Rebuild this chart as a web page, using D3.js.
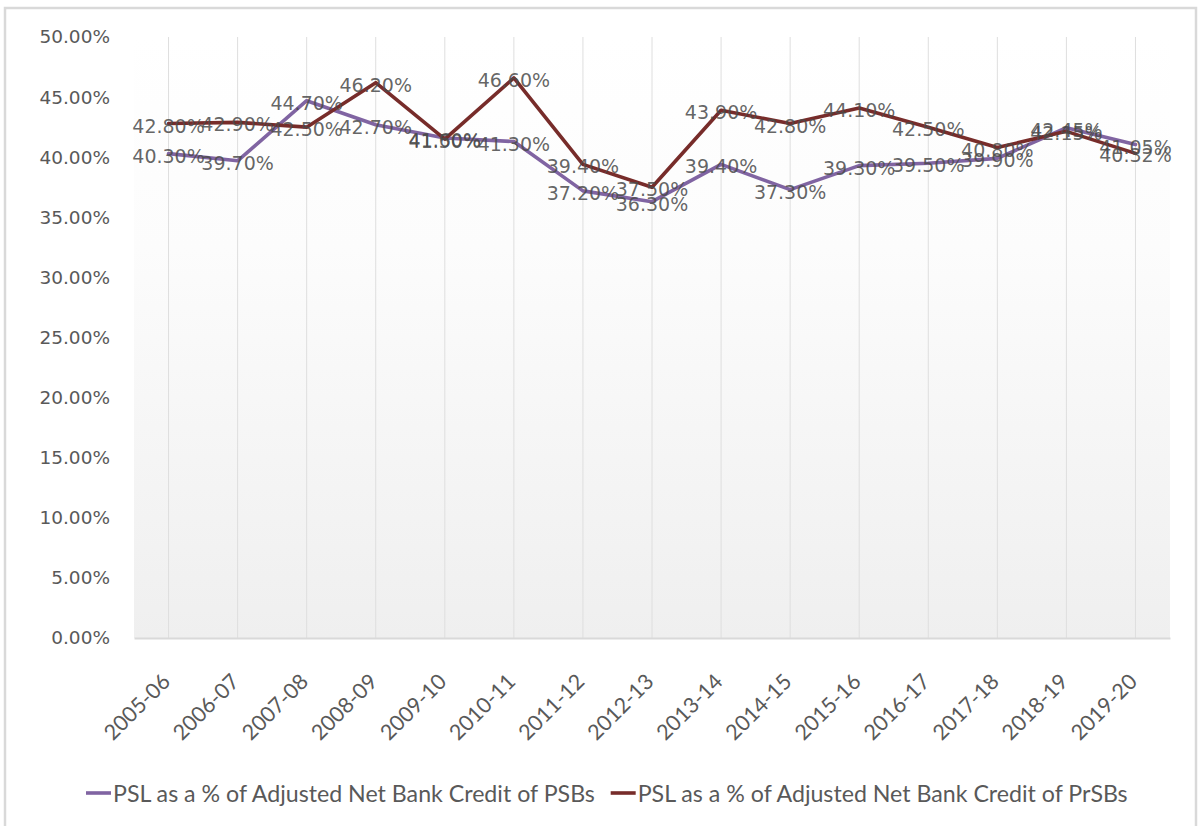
<!DOCTYPE html>
<html>
<head>
<meta charset="utf-8">
<script src="https://cdn.jsdelivr.net/npm/d3@7/dist/d3.min.js"></script>
<style>
  html, body { margin: 0; padding: 0; background: #ffffff; }
  svg { display: block; }
</style>
</head>
<body>
<svg id="chart" width="1198" height="826"></svg>
<script>
const years = ["2005-06","2006-07","2007-08","2008-09","2009-10","2010-11","2011-12","2012-13","2013-14","2014-15","2015-16","2016-17","2017-18","2018-19","2019-20"];
const psbValues = [0.4030, 0.3970, 0.4470, 0.4270, 0.4160, 0.4130, 0.3720, 0.3630, 0.3940, 0.3730, 0.3930, 0.3950, 0.3990, 0.4245, 0.4105];
const prsbValues = [0.4280, 0.4290, 0.4250, 0.4620, 0.4150, 0.4660, 0.3940, 0.3750, 0.4390, 0.4280, 0.4410, 0.4250, 0.4080, 0.4215, 0.4032];
const yTicks = [0, 0.05, 0.10, 0.15, 0.20, 0.25, 0.30, 0.35, 0.40, 0.45, 0.50];
const seriesNames = ["PSL as a % of Adjusted Net Bank Credit of PSBs", "PSL as a % of Adjusted Net Bank Credit of PrSBs"];
const seriesColors = ["#8064a2", "#772c2a"];

const svg = d3.select("#chart");
const plot = { left: 134, right: 1170, top: 37, bottom: 638 };

// outer frame
svg.append("rect").attr("x", 5).attr("y", 8).attr("width", 1191).attr("height", 840)
  .attr("fill", "#ffffff").attr("stroke", "#d9d9d9").attr("stroke-width", 2.5);

const defs = svg.append("defs");
const grad = defs.append("linearGradient").attr("id", "bg").attr("x1", 0).attr("y1", 0).attr("x2", 0).attr("y2", 1);
grad.append("stop").attr("offset", "0%").attr("stop-color", "#ffffff");
grad.append("stop").attr("offset", "35%").attr("stop-color", "#fcfcfc");
grad.append("stop").attr("offset", "100%").attr("stop-color", "#efefef");

const x = d3.scaleBand().domain(years).range([plot.left, plot.right]).padding(0);
const y = d3.scaleLinear().domain([0, 0.5]).range([plot.bottom, plot.top]);
const cx = d => x(d) + x.bandwidth() / 2;

svg.append("rect").attr("x", plot.left).attr("y", plot.top)
  .attr("width", plot.right - plot.left).attr("height", plot.bottom - plot.top)
  .attr("fill", "url(#bg)");

// vertical gridlines
svg.append("g").selectAll("line").data(years).join("line")
  .attr("x1", d => cx(d)).attr("x2", d => cx(d))
  .attr("y1", plot.top).attr("y2", plot.bottom)
  .attr("stroke", "#dedede").attr("stroke-width", 1);

// y axis
const yAxis = svg.append("g").attr("transform", `translate(${plot.left},0)`)
  .call(d3.axisLeft(y).tickValues(yTicks).tickFormat(d3.format(".2%")).tickSize(0).tickPadding(24));
yAxis.select(".domain").remove();
yAxis.selectAll("text").attr("fill", "#595959")
  .style("font-family", "'DejaVu Sans', Verdana, sans-serif").style("font-size", "18.5px");

// x axis
const xAxis = svg.append("g").attr("transform", `translate(0,${plot.bottom})`)
  .call(d3.axisBottom(x).tickSize(0).tickPadding(0));
xAxis.select(".domain").attr("stroke", "#d9d9d9").attr("stroke-width", 2);
xAxis.selectAll("text")
  .attr("fill", "#595959")
  .style("font-family", "Lato, 'Open Sans', sans-serif").style("font-size", "21.5px")
  .attr("text-anchor", "end")
  .attr("dy", null).attr("y", 0)
  .attr("transform", "translate(3,45) rotate(-45)");

// lines
const seriesData = [psbValues, prsbValues];
const line = d3.line().x((d, i) => cx(years[i])).y(d => y(d));
seriesData.forEach((vals, s) => {
  svg.append("path").datum(vals).attr("d", line)
    .attr("fill", "none").attr("stroke", seriesColors[s]).attr("stroke-width", 3.6)
    .attr("stroke-linejoin", "round").attr("stroke-linecap", "round");
});

// data labels
seriesData.forEach((vals, s) => {
  svg.append("g").selectAll("text").data(vals).join("text")
    .attr("x", (d, i) => cx(years[i]))
    .attr("y", d => y(d) + 2)
    .attr("text-anchor", "middle")
    .attr("dominant-baseline", "central")
    .attr("fill", "#4a4a4a").attr("fill-opacity", 0.85)
    .style("font-family", "'DejaVu Sans', Verdana, sans-serif").style("font-size", "19px")
    .text(d => d3.format(".2%")(d));
});

// legend
const legendY = 793;
const legend = svg.append("g");
const items = legend.selectAll("g").data(seriesNames).join("g");
items.append("line").attr("x1", 0).attr("x2", 25).attr("y1", 0).attr("y2", 0)
  .attr("stroke", (d, i) => seriesColors[i]).attr("stroke-width", 3.6);
const ltexts = items.append("text").attr("x", 27).attr("y", 0)
  .attr("dominant-baseline", "central")
  .attr("fill", "#595959")
  .style("font-family", "Lato, 'Open Sans', sans-serif").style("font-size", "20px")
  .text(d => d);
// fit legend font to reference width
const targetW = 482;
const w0 = ltexts.nodes()[0].getComputedTextLength();
const fs = 20 * targetW / w0;
ltexts.style("font-size", fs + "px");
let cursor = 86;
items.each(function (d, i) {
  d3.select(this).attr("transform", `translate(${cursor},${legendY})`);
  const tw = d3.select(this).select("text").node().getComputedTextLength();
  cursor += 27 + tw + 16;
});
</script>
</body>
</html>
